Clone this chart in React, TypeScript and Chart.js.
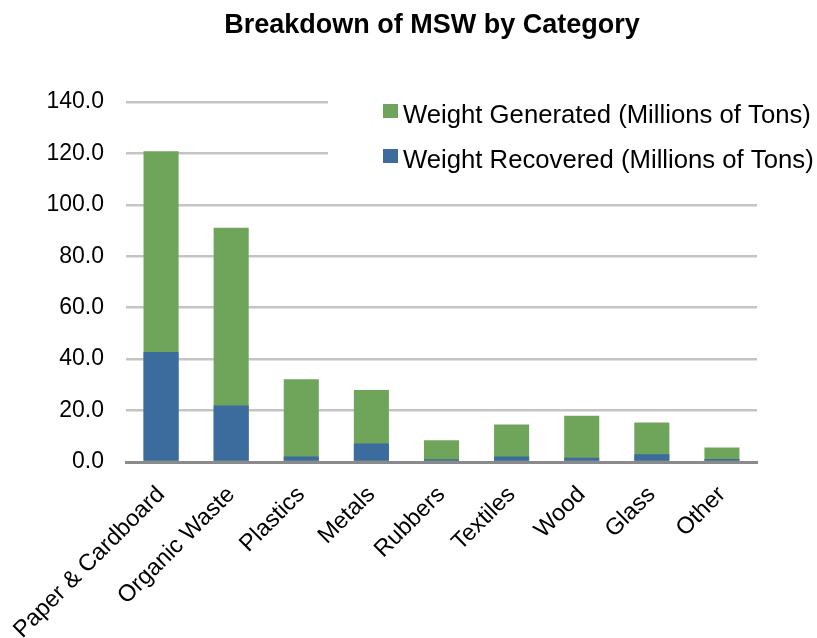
import React, { useEffect, useRef } from "react";
import { Chart, registerables } from "chart.js";

Chart.register(...registerables);

const TITLE = "Breakdown of MSW by Category";
const categories = [
  "Paper & Cardboard",
  "Organic Waste",
  "Plastics",
  "Metals",
  "Rubbers",
  "Textiles",
  "Wood",
  "Glass",
  "Other",
];
const generatedLabel = "Weight Generated (Millions of Tons)";
const recoveredLabel = "Weight Recovered (Millions of Tons)";
const generated = [120.8, 91.1, 32.2, 28.0, 8.5, 14.6, 18.0, 15.4, 5.6];
const recovered = [42.8, 22.0, 2.1, 7.2, 1.1, 2.1, 1.7, 3.0, 1.2];
const yMin = 0;
const yMax = 140;
const yStep = 20;

const GREEN = "#6fa55a";
const BLUE = "#3c6b9d";
const FONT = "'Liberation Sans', Arial, Helvetica, sans-serif";

export default function App() {
  const ref = useRef<HTMLCanvasElement | null>(null);

  useEffect(() => {
    if (!ref.current) return;
    const overlay = {
      id: "overlay",
      afterDraw(chart: any) {
        const ctx = chart.ctx;
        ctx.save();
        // title
        ctx.fillStyle = "#000";
        ctx.font = `bold 27px ${FONT}`;
        ctx.textAlign = "center";
        ctx.textBaseline = "alphabetic";
        ctx.fillText(TITLE, 432, 33);
        // legend background
        ctx.fillStyle = "#fff";
        ctx.fillRect(328, 86, 489, 92);
        const items = [
          { label: chart.data.datasets[1].label, color: chart.data.datasets[1].backgroundColor },
          { label: chart.data.datasets[0].label, color: chart.data.datasets[0].backgroundColor },
        ];
        ctx.font = `25.7px ${FONT}`;
        ctx.textAlign = "left";
        items.forEach((it, i) => {
          const y = 104 + i * 45;
          ctx.fillStyle = it.color;
          ctx.fillRect(383, y, 15, 14);
          ctx.fillStyle = "#000";
          ctx.fillText(it.label, 403, y + 19);
        });
        ctx.restore();
      },
    };

    const chart = new Chart(ref.current, {
      type: "bar",
      data: {
        labels: categories,
        datasets: [
          {
            label: recoveredLabel,
            data: recovered,
            backgroundColor: BLUE,
            order: 1,
            barPercentage: 0.5,
            categoryPercentage: 1,
          },
          {
            label: generatedLabel,
            data: generated,
            backgroundColor: GREEN,
            order: 2,
            barPercentage: 0.5,
            categoryPercentage: 1,
          },
        ],
      },
      options: {
        animation: false,
        responsive: false,
        layout: { padding: { left: 0, right: 60, top: 102, bottom: 0 } },
        plugins: {
          legend: { display: false },
          title: { display: false },
          tooltip: { enabled: false },
        },
        scales: {
          x: {
            stacked: true,
            grid: { display: false, drawTicks: false },
            border: { display: true, color: "#8a8a8a", width: 3 },
            ticks: {
              color: "#000",
              font: { family: FONT, size: 23.5 },
              minRotation: 45,
              maxRotation: 45,
              autoSkip: false,
              padding: 19,
            },
            afterFit(scale: any) {
              scale.height = 176;
              scale.paddingLeft = 0;
              scale.paddingRight = 0;
            },
          },
          y: {
            stacked: false,
            min: yMin,
            max: yMax,
            grid: { color: "#c4c4c4", lineWidth: 2.5, drawTicks: false },
            border: { display: false },
            ticks: {
              stepSize: yStep,
              color: "#000",
              font: { family: FONT, size: 23 },
              padding: 22,
              callback: (v: any) => Number(v).toFixed(1),
            },
            afterFit(scale: any) {
              scale.width = 126;
            },
          },
        },
      },
      plugins: [overlay],
    });
    return () => chart.destroy();
  }, []);

  return (
    <div style={{ position: "fixed", left: 0, top: 0, width: 817, height: 638, background: "#fff" }}>
      <canvas ref={ref} width={817} height={638} />
    </div>
  );
}
